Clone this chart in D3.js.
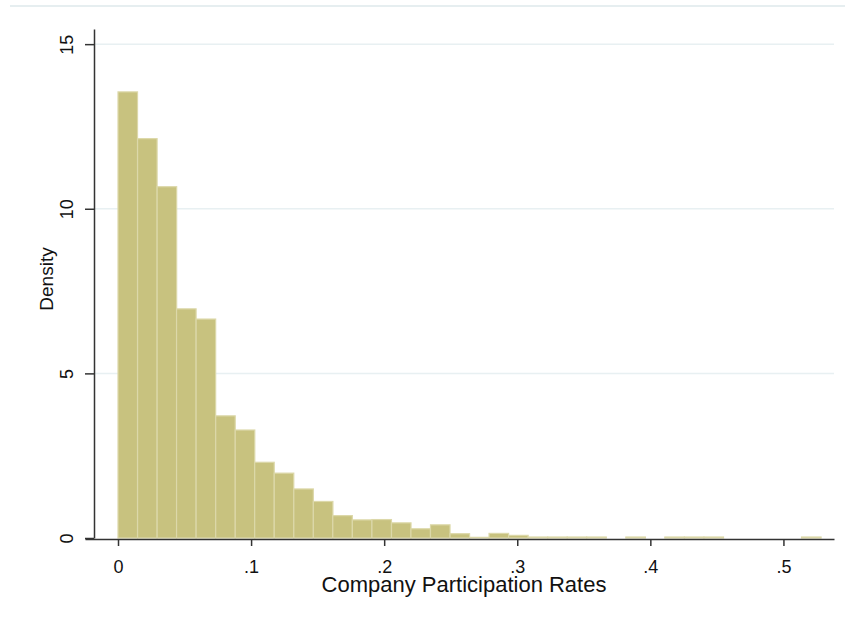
<!DOCTYPE html>
<html>
<head>
<meta charset="utf-8">
<script src="https://cdn.jsdelivr.net/npm/d3@7"></script>
<style>
  body { margin: 0; background: #fff; }
  text { font-family: "Liberation Sans", Arial, sans-serif; fill: #111; }
</style>
</head>
<body>
<div id="chart"></div>
<script>
// histogram bins (lower edges) and densities
var binStarts = [0, .0147, .0294, .0440, .0587, .0734, .0881, .1027, .1174, .1321,
  .1468, .1614, .1761, .1908, .2055, .2201, .2348, .2495, .2642, .2788,
  .2935, .3082, .3229, .3375, .3522, .3669, .3816, .3962, .4109, .4256,
  .4403, .4549, .4696, .4843, .4990, .5136];
var binWidth = 0.014675;
var density = [13.55, 12.13, 10.67, 6.96, 6.65, 3.71, 3.28, 2.30, 1.97, 1.49,
  1.11, 0.68, 0.55, 0.56, 0.46, 0.28, 0.40, 0.13, 0.02, 0.14,
  0.08, 0.03, 0.03, 0.03, 0.03, 0, 0.03, 0, 0.03, 0.03,
  0.03, 0, 0, 0, 0, 0.03];
var xTicks = [0, .1, .2, .3, .4, .5];
var yTicks = [0, 5, 10, 15];

var svgWidth = 845, svgHeight = 619;

var svg = d3.select("#chart").append("svg")
  .attr("width", svgWidth)
  .attr("height", svgHeight);

// faint border line at the top of the graph region
svg.append("line")
  .attr("x1", 10).attr("x2", 845)
  .attr("y1", 6).attr("y2", 6)
  .attr("stroke", "#e6eef0")
  .attr("stroke-width", 2);

var x = d3.scaleLinear().domain([-0.0248, 0.538]).range([85, 834]);
var y = d3.scaleLinear().domain([0, 15.46]).range([538, 29]);
var yAxisX = 94, xAxisY = 539;

// gridlines
svg.append("g")
  .selectAll("line")
  .data(yTicks.filter(d => d > 0))
  .enter().append("line")
  .attr("x1", yAxisX).attr("x2", 834)
  .attr("y1", d => y(d)).attr("y2", d => y(d))
  .attr("stroke", "#e8f0f2")
  .attr("stroke-width", 1.5);

// bars
var data = binStarts.map((s, i) => ({x0: s, x1: s + binWidth, d: density[i]}));
svg.append("g")
  .selectAll("rect")
  .data(data.filter(b => b.d > 0))
  .enter().append("rect")
  .attr("x", b => x(b.x0))
  .attr("width", b => x(b.x1) - x(b.x0))
  .attr("y", b => y(b.d))
  .attr("height", b => y(0) - y(b.d))
  .attr("fill", "#c8c27f")
  .attr("stroke", "#dcd8a9")
  .attr("stroke-width", 1.2);

// y axis
var yAxis = svg.append("g")
  .attr("transform", `translate(${yAxisX},0)`)
  .call(d3.axisLeft(y).tickValues(yTicks).tickSize(9).tickSizeOuter(0));
yAxis.select(".domain").attr("stroke", "#333").attr("stroke-width", 1.5);
yAxis.selectAll(".tick line").attr("stroke", "#333").attr("stroke-width", 1.5);
yAxis.selectAll(".tick text")
  .attr("x", 0).attr("y", 0).attr("dy", 0)
  .attr("transform", "translate(-21,0) rotate(-90)")
  .attr("text-anchor", "middle")
  .attr("font-size", "18px")
  .attr("fill", "#111");

// x axis
var xAxis = svg.append("g")
  .attr("transform", `translate(0,${xAxisY})`)
  .call(d3.axisBottom(x).tickValues(xTicks).tickSize(7).tickSizeOuter(0)
    .tickFormat(d => d === 0 ? "0" : d3.format(".1f")(d).replace(/^0/, "")));
xAxis.select(".domain").attr("stroke", "#333").attr("stroke-width", 1.5);
xAxis.selectAll(".tick line").attr("stroke", "#333").attr("stroke-width", 1.5);
xAxis.selectAll(".tick text")
  .attr("y", 34).attr("dy", 0)
  .attr("font-size", "18px")
  .attr("fill", "#111");

// axis titles
svg.append("text")
  .attr("x", 464).attr("y", 592)
  .attr("text-anchor", "middle")
  .attr("font-size", "22px")
  .text("Company Participation Rates");

svg.append("text")
  .attr("transform", "translate(53,279) rotate(-90)")
  .attr("text-anchor", "middle")
  .attr("font-size", "19px")
  .text("Density");
</script>
</body>
</html>
